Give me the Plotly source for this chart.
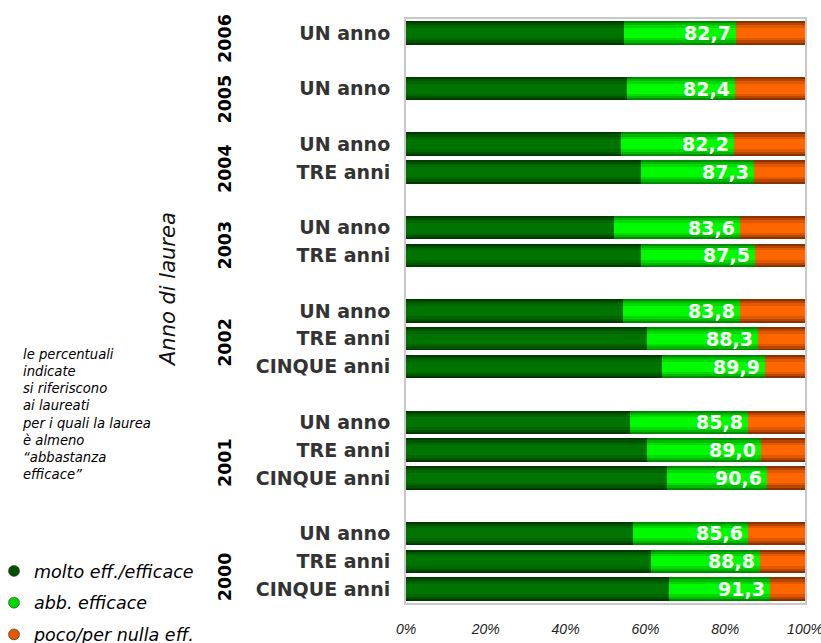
import plotly.graph_objects as go

# Rows from top to bottom
anno = ["2006", "2005", "2004", "2004", "2003", "2003",
        "2002", "2002", "2002", "2001", "2001", "2001",
        "2000", "2000", "2000"]
coorte = ["UN anno", "UN anno", "UN anno", "TRE anni", "UN anno", "TRE anni",
          "UN anno", "TRE anni", "CINQUE anni", "UN anno", "TRE anni", "CINQUE anni",
          "UN anno", "TRE anni", "CINQUE anni"]
# % "molto efficace / efficace"
molto = [54.6, 55.4, 53.9, 58.9, 52.1, 58.9,
         54.4, 60.4, 64.2, 56.1, 60.4, 65.4,
         56.9, 61.4, 65.9]
# % almeno "abbastanza efficace" (molto + abbastanza)
almeno_abb = [82.7, 82.4, 82.2, 87.3, 83.6, 87.5,
              83.8, 88.3, 89.9, 85.8, 89.0, 90.6,
              85.6, 88.8, 91.3]

abb = [round(t - m, 1) for t, m in zip(almeno_abb, molto)]
poco = [round(100 - t, 1) for t in almeno_abb]

serie_nomi = ["molto eff./efficace", "abb. efficace", "poco/per nulla eff."]

# Banded shading (outer -> inner) for each segment
shade_molto = ["#003c00", "#005400", "#006600", "#007400"]
shade_abb = ["#008a00", "#00b800", "#00dc00", "#00fa00"]
shade_poco = ["#8c3200", "#b84600", "#e05800", "#ff6600"]
layer_widths = [0.84, 0.70, 0.54, 0.36]

# y positions: one empty slot between years, bottom row at 0
pos = [0] * len(anno)
p = -1
prev = None
for i in range(len(anno) - 1, -1, -1):
    if prev is not None and anno[i] != prev:
        p += 1
    p += 1
    pos[i] = p
    prev = anno[i]

fig = go.Figure()

segments = [
    (molto, [0] * len(molto), shade_molto),
    (abb, molto, shade_abb),
    (poco, almeno_abb, shade_poco),
]
for vals, base, shades in segments:
    for w, c in zip(layer_widths, shades):
        fig.add_trace(go.Bar(
            x=vals, y=pos, base=base, orientation="h", width=w,
            marker=dict(color=c, line=dict(width=0)),
            showlegend=False, hoverinfo="skip",
        ))

# Legend entries
legend_cols = ["#005000", "#00d800", "#e05800"]
for k, (nome, col) in enumerate(zip(serie_nomi, legend_cols)):
    fig.add_trace(go.Scatter(
        x=[None], y=[None], mode="markers", name=nome,
        legendgroup=f"g{k}",
        marker=dict(symbol="circle", size=11, color=col,
                    line=dict(color="#1a1a1a", width=0.5)),
    ))

annotations = []
# value labels
for t, y in zip(almeno_abb, pos):
    annotations.append(dict(
        x=t, y=y, xref="x", yref="y", xanchor="right", yanchor="middle",
        xshift=-3, text=f"{t:.1f}".replace(".", ","), showarrow=False,
        font=dict(family="DejaVu Sans", size=19, color="white", weight="bold"),
    ))

# year labels
anni_unici = []
for a in anno:
    if a not in anni_unici:
        anni_unici.append(a)
year_shift = [-6, -11, -11, -4, -4, -13, -16]
for a, ys in zip(anni_unici, year_shift):
    yy = [pp for aa, pp in zip(anno, pos) if aa == a]
    annotations.append(dict(
        x=(225 - 406) / 399, y=sum(yy) / len(yy), xref="paper", yref="y",
        xanchor="center", yanchor="middle",
        yshift=ys, text=a, textangle=-90, showarrow=False,
        font=dict(family="DejaVu Sans", size=17.5, color="black", weight="bold"),
    ))

annotations.append(dict(
    x=(168 - 406) / 399, y=(603 - 290) / 584, xref="paper", yref="paper",
    xanchor="center", yanchor="middle",
    text="Anno di laurea", textangle=-90, showarrow=False,
    font=dict(family="DejaVu Sans", size=21, color="#111111", style="italic"),
))

annotations.append(dict(
    x=(20 - 406) / 399, y=(603 - 345) / 584, xref="paper", yref="paper",
    xanchor="left", yanchor="top", align="left", showarrow=False,
    text=("<i>le percentuali<br>indicate<br>si riferiscono<br>ai laureati<br>"
          "per i quali la laurea<br>è almeno<br>“abbastanza<br>efficace”</i>"),
    font=dict(family="DejaVu Sans", size=13.2, color="black", style="italic"),
))

fig.update_layout(
    width=821, height=643,
    margin=dict(l=406, r=16, t=19, b=40, autoexpand=False),
    barmode="overlay", bargap=0,
    plot_bgcolor="white", paper_bgcolor="white",
    annotations=annotations,
    showlegend=True,
    legend=dict(
        x=(-6 - 406) / 399, y=(603 - 553) / 584, xanchor="left", yanchor="top",
        traceorder="grouped", tracegroupgap=6,
        font=dict(family="DejaVu Sans", size=17.5, color="black", style="italic"),
        bgcolor="rgba(0,0,0,0)",
    ),
    xaxis=dict(
        range=[0, 100], tickvals=[0, 20, 40, 60, 80, 100],
        ticktext=["0%", "20%", "40%", "60%", "80%", "100%"],
        showgrid=False, zeroline=False, showline=True, mirror=True,
        linecolor="#c8c8c8", linewidth=2, ticks="", ticklabelstandoff=12,
        ticklabeloverflow="allow",
        tickfont=dict(family="Liberation Sans", size=14, color="#222222",
                      style="italic"),
        automargin=False, fixedrange=True,
    ),
    yaxis=dict(
        range=[-0.5, max(pos) + 0.5], tickvals=pos, ticktext=coorte,
        showgrid=False, zeroline=False, showline=True, mirror=True,
        linecolor="#c8c8c8", linewidth=2, ticks="", ticklabelstandoff=10,
        tickfont=dict(family="DejaVu Sans", size=19, color="#333333",
                      weight="bold"),
        automargin=False, fixedrange=True,
    ),
)

fig.write_html("out.html")
